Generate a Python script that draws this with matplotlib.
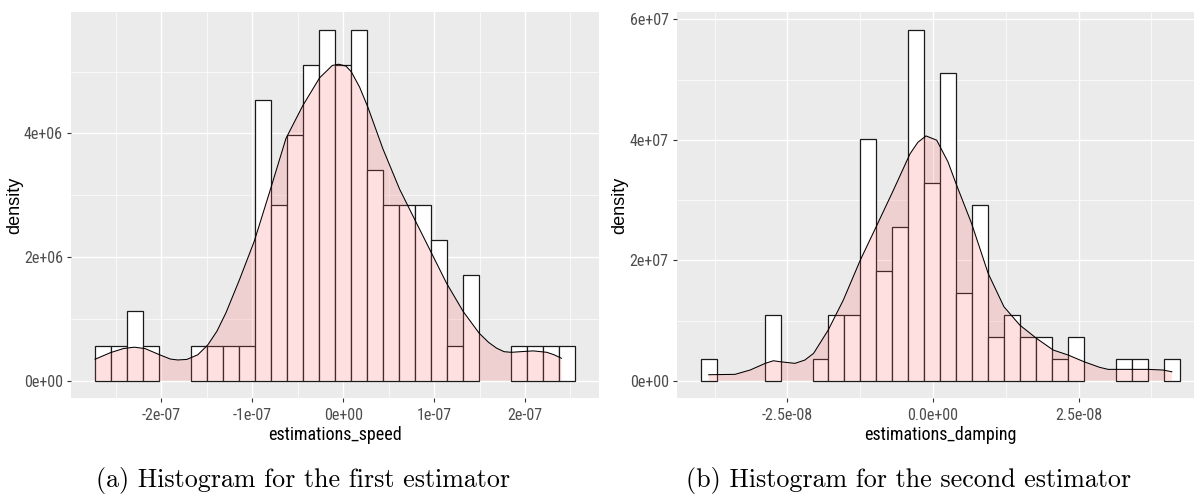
import matplotlib
matplotlib.use("Agg")
import matplotlib.pyplot as plt
import numpy as np
from matplotlib import font_manager
from matplotlib.ticker import FixedLocator, FixedFormatter, NullFormatter

# ---- data -----------------------------------------------------------------
# histogram counts (30 equal-width bins) and the span covered by the bins
speed_counts = [1, 1, 2, 1, 0, 0, 1, 1, 1, 1, 8, 5, 7, 9, 10,
                9, 10, 6, 5, 5, 5, 4, 1, 3, 0, 0, 1, 1, 1, 1]
speed_bin_span = (-2.731e-7, 2.550e-7)

damping_counts = [1, 0, 0, 0, 3, 0, 0, 1, 3, 3, 11, 5, 7, 16, 9,
                  14, 4, 8, 2, 3, 2, 2, 1, 2, 0, 0, 1, 1, 0, 1]
damping_bin_span = (-3.989e-8, 4.241e-8)

# kernel density estimates
speed_kde_x = [-2.73e-7, -2.56e-7, -2.42e-7, -2.30e-7, -2.18e-7, -2.02e-7,
               -1.90e-7, -1.82e-7, -1.72e-7, -1.60e-7, -1.49e-7, -1.39e-7,
               -1.29e-7, -1.14e-7, -0.978e-7, -0.80e-7, -0.63e-7, -0.445e-7,
               -0.26e-7, -0.12e-7, -0.05e-7, 0.03e-7, 0.088e-7, 0.18e-7,
               0.27e-7, 0.437e-7, 0.62e-7, 0.786e-7, 0.97e-7, 1.136e-7,
               1.32e-7, 1.495e-7, 1.60e-7, 1.687e-7, 1.77e-7, 1.85e-7,
               1.95e-7, 2.09e-7, 2.24e-7, 2.32e-7, 2.40e-7]
speed_kde_y = [0.348e6, 0.455e6, 0.52e6, 0.543e6, 0.52e6, 0.42e6,
               0.35e6, 0.336e6, 0.345e6, 0.42e6, 0.58e6, 0.80e6,
               1.10e6, 1.64e6, 2.26e6, 3.10e6, 3.92e6, 4.45e6,
               4.90e6, 5.10e6, 5.12e6, 5.09e6, 5.00e6, 4.75e6,
               4.43e6, 3.75e6, 3.10e6, 2.61e6, 2.07e6, 1.58e6,
               1.12e6, 0.77e6, 0.62e6, 0.527e6, 0.47e6, 0.46e6,
               0.47e6, 0.483e6, 0.46e6, 0.42e6, 0.364e6]

damping_kde_x = [-3.85e-8, -3.40e-8, -3.14e-8, -2.88e-8, -2.74e-8, -2.62e-8,
                 -2.37e-8, -2.20e-8, -2.05e-8, -1.80e-8, -1.54e-8, -1.25e-8,
                 -0.965e-8, -0.68e-8, -0.394e-8, -0.26e-8, -0.12e-8, 0.063e-8,
                 0.257e-8, 0.394e-8, 0.663e-8, 0.948e-8, 1.217e-8, 1.49e-8,
                 1.778e-8, 2.063e-8, 2.32e-8, 2.594e-8, 2.863e-8, 3.006e-8,
                 3.435e-8, 3.692e-8, 3.949e-8, 4.10e-8]
damping_kde_y = [1.0e6, 1.06e6, 1.78e6, 2.89e6, 3.32e6, 3.15e6,
                 2.89e6, 3.44e6, 4.55e6, 8.41e6, 13.4e6, 20.0e6,
                 25.8e6, 31.65e6, 37.7e6, 39.6e6, 40.66e6, 39.95e6,
                 36.35e6, 32.76e6, 26.1e6, 17.8e6, 12.3e6, 9.24e6,
                 7.03e6, 5.1e6, 4.27e6, 3.15e6, 2.22e6, 1.89e6,
                 1.89e6, 1.89e6, 1.78e6, 1.49e6]

speed_xticks = [-2e-7, -1e-7, 0.0, 1e-7, 2e-7]
speed_xticklabels = ["-2e-07", "-1e-07", "0e+00", "1e-07", "2e-07"]
speed_yticks = [0.0, 2e6, 4e6]
speed_yticklabels = ["0e+00", "2e+06", "4e+06"]

damping_xticks = [-2.5e-8, 0.0, 2.5e-8]
damping_xticklabels = ["-2.5e-08", "0.0e+00", "2.5e-08"]
damping_yticks = [0.0, 2e7, 4e7, 6e7]
damping_yticklabels = ["0e+00", "2e+07", "4e+07", "6e+07"]

speed_xlabel = "estimations_speed"
damping_xlabel = "estimations_damping"
ylabel = "density"
caption_a = "(a) Histogram for the first estimator"
caption_b = "(b) Histogram for the second estimator"

# ---- fonts ----------------------------------------------------------------
available = {f.name for f in font_manager.fontManager.ttflist}
narrow = None
for cand in ["Liberation Sans Narrow", "Arial Narrow", "Roboto Condensed"]:
    if cand in available:
        narrow = cand
        break
regular = "Liberation Sans"
tick_font = narrow or regular
tick_size = 11.5 if narrow else 10
title_font = narrow or regular
title_size = 13 if narrow else 12.5

W, H = 1194, 494
fig = plt.figure(figsize=(W / 100, H / 100), dpi=100)
fig.patch.set_facecolor("white")


def px_rect(left, right, top, bottom):
    return [left / W, 1 - bottom / H, (right - left) / W, (bottom - top) / H]


def midpoints(ticks):
    t = np.asarray(ticks, dtype=float)
    step = t[1] - t[0]
    ext = np.concatenate([[t[0] - step], t, [t[-1] + step]])
    return list((ext[:-1] + ext[1:]) / 2)


def draw_panel(ax, rect_px, counts, span, kde_x, kde_y, xticks, xticklabels,
               yticks, yticklabels, xlabel, ylabel_right_px):
    counts = np.asarray(counts, dtype=float)
    edges = np.linspace(span[0], span[1], len(counts) + 1)
    width = edges[1] - edges[0]
    dens = counts / (counts.sum() * width)

    ax.set_facecolor("#EBEBEB")
    for s in ax.spines.values():
        s.set_visible(False)

    # histogram, empty bins are not drawn
    keep = dens > 0
    ax.bar(edges[:-1][keep], dens[keep], width=width, align="edge",
           facecolor="white", edgecolor="#1a1a1a", linewidth=0.9, zorder=2)

    # density layer on top
    ax.fill_between(kde_x, 0, kde_y, facecolor="#FF6666", alpha=0.2,
                    linewidth=0, zorder=3)
    ax.plot(kde_x, kde_y, color="black", linewidth=0.75, zorder=4)

    # ggplot-like expansion of 5 %
    xr = span[1] - span[0]
    ax.set_xlim(span[0] - 0.05 * xr, span[1] + 0.05 * xr)
    ymax = dens.max()
    ax.set_ylim(-0.05 * ymax, 1.05 * ymax)

    ax.xaxis.set_major_locator(FixedLocator(xticks))
    ax.xaxis.set_major_formatter(FixedFormatter(xticklabels))
    ax.yaxis.set_major_locator(FixedLocator(yticks))
    ax.yaxis.set_major_formatter(FixedFormatter(yticklabels))
    ax.xaxis.set_minor_locator(FixedLocator(midpoints(xticks)))
    ax.yaxis.set_minor_locator(FixedLocator(midpoints(yticks)))
    ax.xaxis.set_minor_formatter(NullFormatter())
    ax.yaxis.set_minor_formatter(NullFormatter())

    ax.grid(which="major", color="white", linewidth=1.0, zorder=0)
    ax.grid(which="minor", color="white", linewidth=0.5, zorder=0)
    ax.set_axisbelow(True)

    ax.tick_params(which="major", length=2.6, width=0.8, color="#333333",
                   labelcolor="#4D4D4D", labelsize=tick_size)
    ax.tick_params(axis="x", which="major", pad=4.4)
    ax.tick_params(axis="y", which="major", pad=3.2)
    ax.tick_params(which="minor", length=0)
    for lab in ax.get_xticklabels() + ax.get_yticklabels():
        lab.set_fontfamily(tick_font)

    left, right, top, bottom = rect_px
    ax.set_xlabel(xlabel, fontsize=title_size, family=title_font, color="black")
    ax.xaxis.set_label_coords(0.5, (bottom - 426.5) / (bottom - top))
    ax.xaxis.label.set_va("top")
    ax.set_ylabel(ylabel, fontsize=13, family=regular, color="black")
    ax.yaxis.set_label_coords((ylabel_right_px - left) / (right - left), 0.5)


rect1 = (71, 599, 12, 398.3)
ax1 = fig.add_axes(px_rect(*rect1))
draw_panel(ax1, rect1, speed_counts, speed_bin_span, speed_kde_x, speed_kde_y,
           speed_xticks, speed_xticklabels, speed_yticks, speed_yticklabels,
           speed_xlabel, 23)

rect2 = (676.7, 1204, 12, 398.3)
ax2 = fig.add_axes(px_rect(*rect2))
draw_panel(ax2, rect2, damping_counts, damping_bin_span, damping_kde_x, damping_kde_y,
           damping_xticks, damping_xticklabels, damping_yticks, damping_yticklabels,
           damping_xlabel, 628)

fig.text(303 / W, 1 - 487 / H, caption_a, ha="center", va="baseline",
         family="cmr10", fontsize=18.7)
fig.text(909 / W, 1 - 487 / H, caption_b, ha="center", va="baseline",
         family="cmr10", fontsize=18.7)

fig.savefig("out.png", dpi=100, facecolor="white")
